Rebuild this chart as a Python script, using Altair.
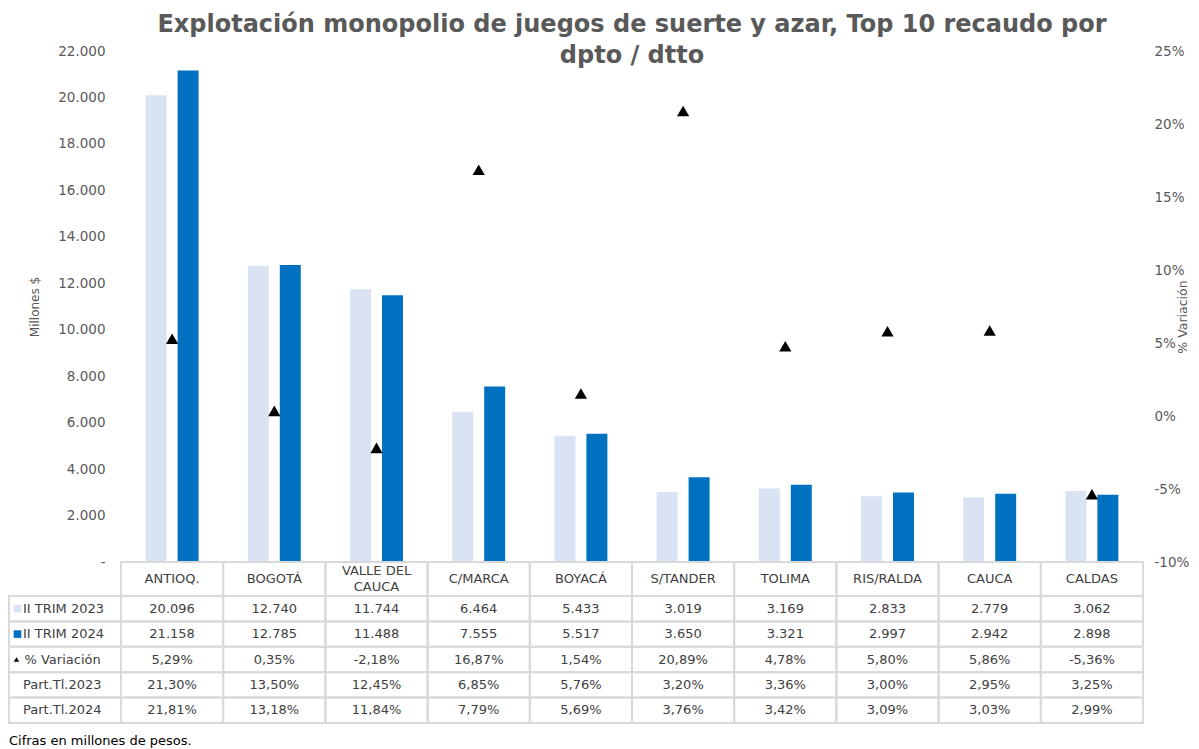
import altair as alt
import pandas as pd

# ---------------- data ----------------
cats = ["ANTIOQ.", "BOGOTÁ", "VALLE DEL\nCAUCA", "C/MARCA", "BOYACÁ",
        "S/TANDER", "TOLIMA", "RIS/RALDA", "CAUCA", "CALDAS"]
trim2023 = [20096, 12740, 11744, 6464, 5433, 3019, 3169, 2833, 2779, 3062]
trim2024 = [21158, 12785, 11488, 7555, 5517, 3650, 3321, 2997, 2942, 2898]
variacion = [5.29, 0.35, -2.18, 16.87, 1.54, 20.89, 4.78, 5.80, 5.86, -5.36]
part2023 = [21.30, 13.50, 12.45, 6.85, 5.76, 3.20, 3.36, 3.00, 2.95, 3.25]
part2024 = [21.81, 13.18, 11.84, 7.79, 5.69, 3.76, 3.42, 3.09, 3.03, 2.99]
series = ["II TRIM 2023", "II TRIM 2024"]
row_labels = ["II TRIM 2023", "II TRIM 2024", "% Variación", "Part.Tl.2023", "Part.Tl.2024"]
colors = ["#DAE3F3", "#0070C0"]
title_lines = ["Explotación monopolio de juegos de suerte y azar, Top 10 recaudo por",
               "dpto / dtto"]
footer = "Cifras en millones de pesos."

FONT = "DejaVu Sans"
GRAY = "#595959"
TXT = "#404040"
W, H = 1022, 511

# ---------------- main chart ----------------
bars_df = pd.DataFrame({
    "cat": cats * 2,
    "serie": [series[0]] * 10 + [series[1]] * 10,
    "value": trim2023 + trim2024,
})
var_df = pd.DataFrame({"cat": cats, "var": variacion})

xband = alt.X("cat:N", sort=cats, scale=alt.Scale(paddingInner=0, paddingOuter=0), axis=None)

bars = alt.Chart(bars_df).mark_bar().encode(
    x=xband,
    xOffset=alt.XOffset("serie:N", sort=series,
                        scale=alt.Scale(paddingInner=0.344, paddingOuter=0.77)),
    y=alt.Y("value:Q", scale=alt.Scale(domain=[0, 22000], nice=False),
            axis=alt.Axis(orient="left", values=list(range(0, 22001, 2000)),
                          labelExpr="datum.value == 0 ? '-' : replace(format(datum.value, ','), ',', '.')",
                          title="Millones $", titleX=-80, titleY=H / 2, titleAngle=270,
                          domain=False, ticks=False, grid=False, labelPadding=16)),
    color=alt.Color("serie:N", scale=alt.Scale(domain=series, range=colors), legend=None),
)

tri = alt.Chart(var_df).mark_point(shape="triangle-up", filled=True, color="black",
                                   opacity=1, size=150).encode(
    x=xband,
    y=alt.Y("var:Q", scale=alt.Scale(domain=[-10, 25], nice=False, zero=False),
            axis=alt.Axis(orient="right", values=list(range(-10, 26, 5)),
                          labelExpr="datum.value + '%'",
                          title="% Variación", titleX=46, titleY=H / 2 + 10, titleAngle=270,
                          titleFontSize=12.5,
                          domain=False, ticks=False, grid=False, labelPadding=11)),
)

main = alt.layer(bars, tri).resolve_scale(y="independent")

# ---------------- data table ----------------
PXX = W / 10.0        # px per column unit
ROW = 25.4            # px per row unit
YTOP = H / ROW
HDR = 34 / ROW
LEFT = -112 / PXX
LH = 16

cells, texts, labels = [], [], []
for i, c in enumerate(cats):
    cells.append({"x0": i, "x1": i + 1, "y0": 0, "y1": -HDR})
    nl = c.count("\n")
    texts.append({"x": i + 0.5, "y": -HDR / 2 + nl * (LH / 2) / ROW, "t": c})
rows_vals = [
    [f"{v:,}".replace(",", ".") for v in trim2023],
    [f"{v:,}".replace(",", ".") for v in trim2024],
    [f"{v:.2f}%".replace(".", ",") for v in variacion],
    [f"{v:.2f}%".replace(".", ",") for v in part2023],
    [f"{v:.2f}%".replace(".", ",") for v in part2024],
]
for k, lab in enumerate(row_labels):
    y0 = -HDR - k
    cells.append({"x0": LEFT, "x1": 0, "y0": y0, "y1": y0 - 1})
    off = 15.5 if k == 2 else 14
    labels.append({"x": LEFT + off / PXX, "y": y0 - 0.5, "t": lab})
    for i in range(10):
        cells.append({"x0": i, "x1": i + 1, "y0": y0, "y1": y0 - 1})
        texts.append({"x": i + 0.5, "y": y0 - 0.5, "t": rows_vals[k][i]})
keys = [
    {"x": LEFT + 8.5 / PXX, "y": -HDR - 0.5, "s": "square", "c": colors[0], "z": 58},
    {"x": LEFT + 8.5 / PXX, "y": -HDR - 1.5, "s": "square", "c": colors[1], "z": 58},
    {"x": LEFT + 7.5 / PXX, "y": -HDR - 2.5, "s": "triangle-up", "c": "black", "z": 30},
]
labels.append({"x": LEFT, "y": -179 / ROW, "t": footer})

xs = alt.Scale(domain=[0, 10], nice=False, zero=False)
ys = alt.Scale(domain=[0, YTOP], nice=False, zero=False)

cell_layer = alt.Chart(pd.DataFrame(cells)).mark_rect(
    fillOpacity=0, stroke="#D9D9D9", strokeWidth=2).encode(
    x=alt.X("x0:Q", scale=xs, axis=None), x2="x1:Q",
    y=alt.Y("y0:Q", scale=ys, axis=None), y2="y1:Q")

text_layer = alt.Chart(pd.DataFrame(texts)).mark_text(
    font=FONT, fontSize=13, color=TXT, align="center", baseline="middle",
    lineBreak="\n", lineHeight=LH).encode(
    x=alt.X("x:Q", scale=xs, axis=None), y=alt.Y("y:Q", scale=ys, axis=None), text="t:N")

lab_df = pd.DataFrame(labels)
lab_df["col"] = [TXT] * 5 + ["black"]
label_layer = alt.Chart(lab_df).mark_text(
    font=FONT, fontSize=13, align="left", baseline="middle").encode(
    x=alt.X("x:Q", scale=xs, axis=None), y=alt.Y("y:Q", scale=ys, axis=None), text="t:N",
    color=alt.Color("col:N", scale=None))

key_layer = alt.Chart(pd.DataFrame(keys)).mark_point(filled=True, opacity=1).encode(
    x=alt.X("x:Q", scale=xs, axis=None), y=alt.Y("y:Q", scale=ys, axis=None),
    shape=alt.Shape("s:N", scale=None), color=alt.Color("c:N", scale=None),
    size=alt.Size("z:Q", scale=None))

table = alt.layer(cell_layer, text_layer, label_layer, key_layer)

chart = alt.layer(main, table).resolve_scale(
    x="independent", y="independent", color="independent", shape="independent",
    size="independent"
).properties(
    width=W, height=H,
    padding={"top": 5, "left": 0, "right": 0, "bottom": 0},
    title=alt.Title(text=title_lines, font=FONT, fontSize=24, fontWeight="bold",
                    color=GRAY, anchor="middle", frame="group", offset=-24, lineHeight=31),
).configure_view(stroke=None).configure_axis(
    labelFont=FONT, labelFontSize=13.5, labelColor=GRAY,
    titleFont=FONT, titleFontSize=12, titleColor=GRAY, titleFontWeight="normal",
)

chart.save("out.html", embed_options={"renderer": "svg", "actions": False})
